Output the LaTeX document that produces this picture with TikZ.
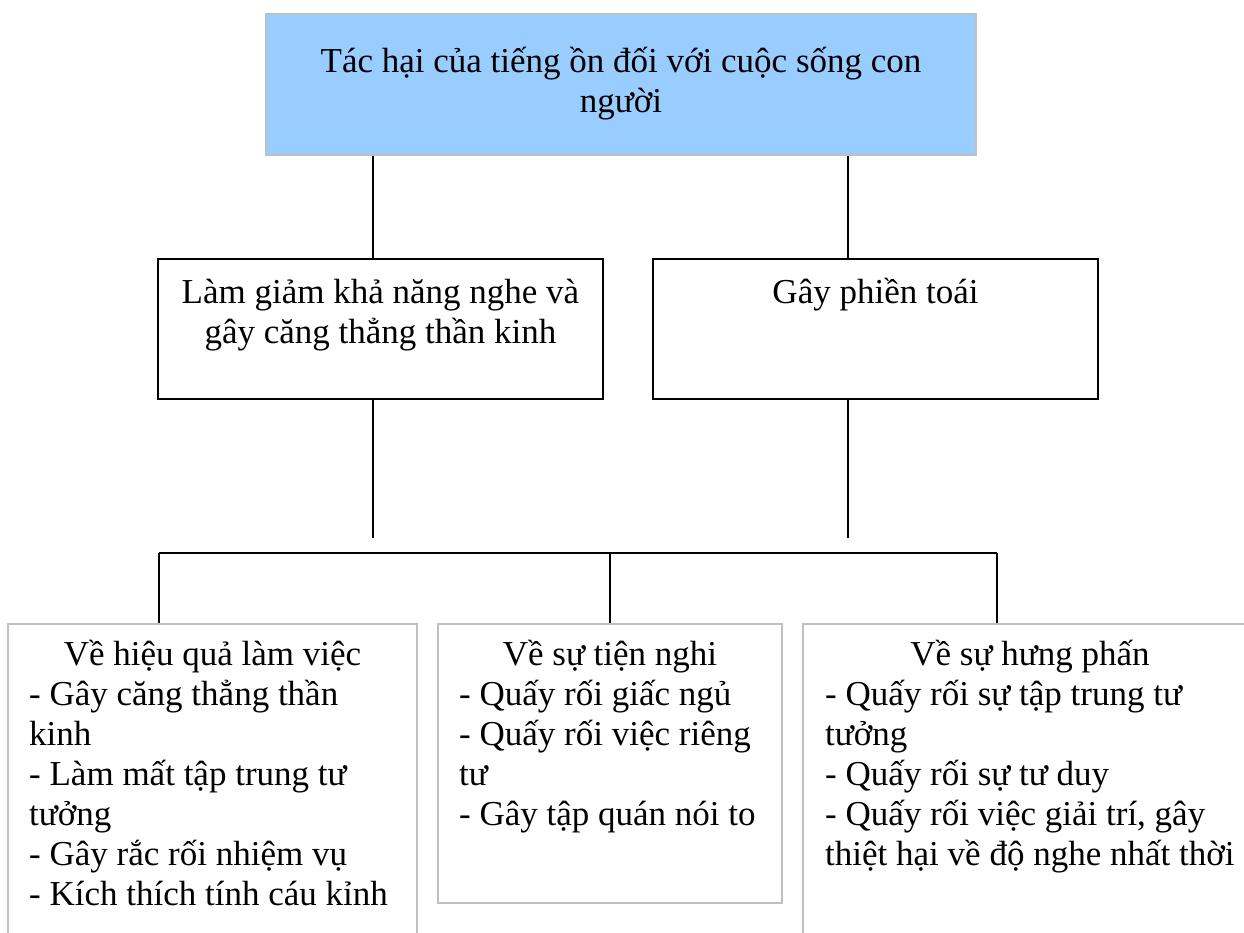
\documentclass[tikz,border=0pt]{standalone}
\usepackage{fontspec}
\setmainfont{Liberation Serif}
\usepackage{tikz,xcolor}
\usetikzlibrary{positioning}

\definecolor{topblue}{HTML}{99CCFF}
\definecolor{boxgray}{HTML}{C0C0C0}

\tikzset{
  topbox/.style={draw=boxgray, line width=2pt, fill=topblue},
  midbox/.style={draw=black, line width=2pt},
  lowbox/.style={draw=boxgray, line width=2pt},
  conn/.style={black, line width=2pt},
  txt/.style={inner sep=0pt, font=\fontsize{35}{40}\selectfont},
}

\begin{document}
\begin{tikzpicture}[x=1pt,y=-1pt]
\useasboundingbox (0,0) rectangle (1244,933);
\clip (0,0) rectangle (1244,933);
% Top box
  \node[topbox, minimum width=710pt, minimum height=141pt] (tachai) at (621,84.5) {};
  \node[txt, anchor=base, text width=700pt, align=flush center] (tachai-t) at (621,73)
    {Tác hại của tiếng ồn đối với cuộc sống con\\người};
% Second row
  \node[midbox, minimum width=445pt, minimum height=140pt] (giamnghe) at (380.5,329) {};
  \node[txt, anchor=base, text width=440pt, align=flush center] (giamnghe-t) at (380.5,303)
    {Làm giảm khả năng nghe và\\gây căng thẳng thần kinh};
  \node[midbox, minimum width=445pt, minimum height=140pt] (phientoai) at (875.5,329) {};
  \node[txt, anchor=base] (phientoai-t) at (875.5,303) {Gây phiền toái};
% Bottom row, the outer two run past the page
  \node[lowbox, minimum width=409pt, minimum height=376pt] (hieuqua) at (212.5,812) {};
  \node[txt, anchor=base] (hieuqua-t) at (212.5,665) {Về hiệu quả làm việc};
  \node[txt, anchor=base west, text width=440pt, align=flush left] (hieuqua-l) at (29,705)
    {- Gây căng thẳng thần\\kinh\\- Làm mất tập trung tư\\tưởng\\- Gây rắc rối nhiệm vụ\\- Kích thích tính cáu kỉnh};
  \node[lowbox, minimum width=344pt, minimum height=279pt] (tiennghi) at (610,763.5) {};
  \node[txt, anchor=base] (tiennghi-t) at (610,665) {Về sự tiện nghi};
  \node[txt, anchor=base west, text width=400pt, align=flush left] (tiennghi-l) at (459,705)
    {- Quấy rối giấc ngủ\\- Quấy rối việc riêng\\tư\\- Gây tập quán nói to};
  \node[lowbox, minimum width=454pt, minimum height=376pt] (hungphan) at (1030,812) {};
  \node[txt, anchor=base] (hungphan-t) at (1030,665) {Về sự hưng phấn};
  \node[txt, anchor=base west, text width=480pt, align=flush left] (hungphan-l) at (825,705)
    {- Quấy rối sự tập trung tư\\tưởng\\- Quấy rối sự tư duy\\- Quấy rối việc giải trí, gây\\thiệt hại về độ nghe nhất thời};
% Connectors
  \coordinate (tapL) at (373,538);
  \coordinate (tapR) at (848,538);
  \coordinate (busW) at (159,553);
  \coordinate (busM) at (610,553);
  \coordinate (busE) at (997,553);
  \draw[conn] (tachai.south -| tapL) -- (giamnghe.north -| tapL);
  \draw[conn] (tachai.south -| tapR) -- (phientoai.north -| tapR);
  \draw[conn] (giamnghe.south -| tapL) -- (tapL);
  \draw[conn] (phientoai.south -| tapR) -- (tapR);
  \draw[conn] (busW) -- (busE);
  \draw[conn] (busW) -- (hieuqua.north -| busW);
  \draw[conn] (busM) -- (tiennghi.north);
  \draw[conn] (busE) -- (hungphan.north -| busE);
\end{tikzpicture}
\end{document}
